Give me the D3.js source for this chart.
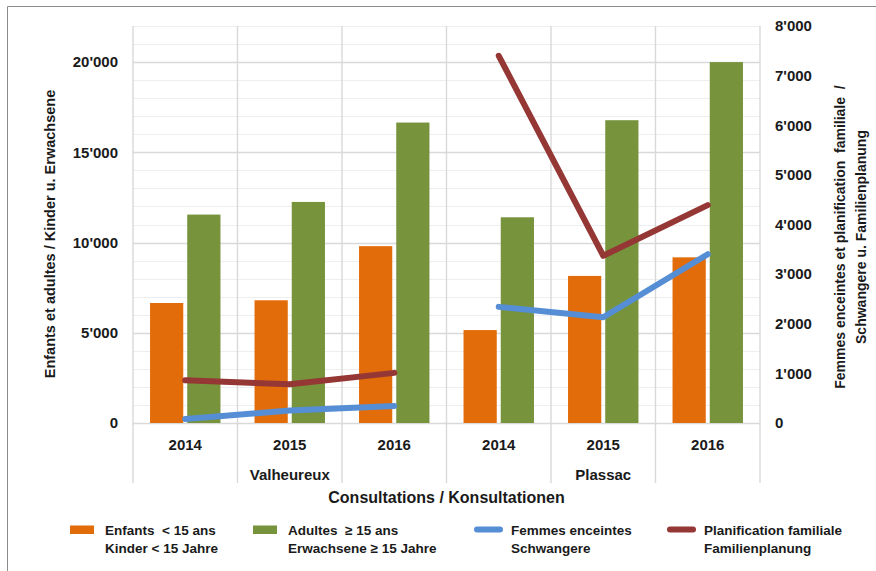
<!DOCTYPE html>
<html>
<head>
<meta charset="utf-8">
<script src="https://cdn.jsdelivr.net/npm/d3@7"></script>
<style>
  body { margin: 0; background: #fff; }
  svg { display: block; font-family: "Liberation Sans Narrow", "Arial Narrow", "Liberation Sans", sans-serif; font-weight: bold; }
</style>
</head>
<body>
<svg id="chart" width="876" height="571"></svg>
<script>
// Sites, each with three years of consultations
const groups = ["Valheureux", "Plassac"];
const years = ["2014", "2015", "2016"];

// Bars (left axis)
const enfants = [6650, 6800, 9800, 5150, 8150, 9180];
const adultes = [11550, 12250, 16650, 11400, 16780, 20000];

// Lines (right axis), one segment per site
const femmesEnceintes = [80, 250, 345, 2340, 2130, 3400];
const planificationFamiliale = [860, 780, 1010, 7400, 3370, 4390];

const leftTicks = [0, 5000, 10000, 15000, 20000];
const rightTicks = [0, 1000, 2000, 3000, 4000, 5000, 6000, 7000, 8000];

const colors = {
  enfants: "#E36C0A",
  adultes: "#77933C",
  femmes: "#558ED5",
  planif: "#953735"
};

const svg = d3.select("#chart");
const W = 876, H = 571;
const plot = { left: 133, right: 760, top: 26, bottom: 423 };

const fmt = d3.formatLocale({ decimal: ".", thousands: "'", grouping: [3], currency: ["", ""] }).format(",");

// Outer frame (cut off at right and bottom)
svg.append("path")
  .attr("d", `M7.5,${H} V6.5 H${W}`)
  .attr("fill", "none").attr("stroke", "#8c8c8c").attr("stroke-width", 1);

// Categories: site × year
const cats = [];
groups.forEach((g, gi) => years.forEach((y, yi) => cats.push({ g, y, i: gi * years.length + yi })));

const x0 = d3.scaleBand().domain(cats.map(c => c.i)).range([plot.left, plot.right]).paddingInner(0).paddingOuter(0);
const bw = x0.bandwidth();
const x1 = d3.scaleBand().domain(["enfants", "adultes"]).range([bw * 0.163, bw * 0.837]).paddingInner(0.107);

const yL = d3.scaleLinear().domain([0, 22000]).range([plot.bottom, plot.top]);
const yR = d3.scaleLinear().domain([0, 8000]).range([plot.bottom, plot.top]);

// Horizontal gridlines
const grid = svg.append("g");
grid.selectAll("line.minor")
  .data(d3.range(0, 22001, 1000))
  .join("line")
  .attr("x1", plot.left).attr("x2", plot.right)
  .attr("y1", d => Math.round(yL(d)) + 0.5).attr("y2", d => Math.round(yL(d)) + 0.5)
  .attr("stroke", d => d % 5000 === 0 ? "#d9d9d9" : "#eeeeee")
  .attr("stroke-width", d => d % 5000 === 0 ? 1.3 : 1);

// Vertical category separators (run down through the label rows)
grid.selectAll("line.sep")
  .data(d3.range(cats.length + 1))
  .join("line")
  .attr("x1", i => i === cats.length ? plot.right : x0(i))
  .attr("x2", i => i === cats.length ? plot.right : x0(i))
  .attr("y1", plot.top).attr("y2", 483)
  .attr("stroke", "#d9d9d9").attr("stroke-width", 1.4);

// Bars
const barData = [];
cats.forEach(c => {
  barData.push({ c, key: "enfants", v: enfants[c.i] });
  barData.push({ c, key: "adultes", v: adultes[c.i] });
});
svg.append("g").selectAll("rect")
  .data(barData)
  .join("rect")
  .attr("x", d => x0(d.c.i) + x1(d.key))
  .attr("width", x1.bandwidth())
  .attr("y", d => yL(d.v))
  .attr("height", d => yL(0) - yL(d.v))
  .attr("fill", d => colors[d.key]);

// Lines: separate segment for each site
const line = d3.line()
  .x(d => x0(d.i) + bw / 2)
  .y(d => yR(d.v));
function drawSeries(values, color) {
  groups.forEach((g, gi) => {
    const pts = years.map((y, yi) => {
      const i = gi * years.length + yi;
      return { i, v: values[i] };
    });
    svg.append("path")
      .attr("d", line(pts))
      .attr("fill", "none")
      .attr("stroke", color)
      .attr("stroke-width", 6)
      .attr("stroke-linecap", "round")
      .attr("stroke-linejoin", "round");
  });
}
drawSeries(femmesEnceintes, colors.femmes);
drawSeries(planificationFamiliale, colors.planif);

// Left axis labels
const axL = svg.append("g").attr("transform", `translate(${plot.left},0)`)
  .call(d3.axisLeft(yL).tickValues(leftTicks).tickFormat(fmt).tickSize(0).tickPadding(15));
axL.select(".domain").remove();
axL.selectAll("text").attr("font-size", 15).attr("font-family", null).attr("fill", "#1a1a1a");

// Right axis labels
const axR = svg.append("g").attr("transform", `translate(${plot.right},0)`)
  .call(d3.axisRight(yR).tickValues(rightTicks).tickFormat(fmt).tickSize(0).tickPadding(15));
axR.select(".domain").remove();
axR.selectAll("text").attr("font-size", 15).attr("font-family", null).attr("fill", "#1a1a1a");

// Category labels: years, then site names
svg.append("g").selectAll("text")
  .data(cats)
  .join("text")
  .attr("x", d => x0(d.i) + bw / 2)
  .attr("y", 450)
  .attr("text-anchor", "middle")
  .attr("font-size", 15)
  .attr("fill", "#1a1a1a")
  .text(d => d.y);

svg.append("g").selectAll("text")
  .data(groups)
  .join("text")
  .attr("x", (g, gi) => (x0(gi * 3) + x0(gi * 3 + 2) + bw) / 2)
  .attr("y", 480)
  .attr("text-anchor", "middle")
  .attr("font-size", 15)
  .attr("fill", "#1a1a1a")
  .text(d => d);

// Axis titles
svg.append("text")
  .attr("x", (plot.left + plot.right) / 2).attr("y", 503)
  .attr("text-anchor", "middle").attr("font-size", 16).attr("fill", "#1a1a1a")
  .text("Consultations / Konsultationen");

svg.append("text")
  .attr("transform", "translate(55,234) rotate(-90)")
  .attr("text-anchor", "middle").attr("font-size", 14.5).attr("fill", "#1a1a1a")
  .text("Enfants et adultes / Kinder u. Erwachsene");

const rt = svg.append("text")
  .attr("transform", "translate(845,237) rotate(-90)")
  .attr("text-anchor", "middle").attr("font-size", 14).attr("fill", "#1a1a1a")
  .style("white-space", "pre");
rt.append("tspan").attr("x", 0).attr("y", 0).text("Femmes enceintes et planification  familiale  /");
rt.append("tspan").attr("x", 0).attr("y", 21).text("Schwangere u. Familienplanung");

// Legend
const legend = [
  { type: "rect", color: colors.enfants, x: 70, l1: "Enfants  < 15 ans", l2: "Kinder < 15 Jahre" },
  { type: "rect", color: colors.adultes, x: 253, l1: "Adultes  \u2265 15 ans", l2: "Erwachsene \u2265 15 Jahre" },
  { type: "line", color: colors.femmes, x: 474, l1: "Femmes enceintes", l2: "Schwangere" },
  { type: "line", color: colors.planif, x: 667, l1: "Planification familiale", l2: "Familienplanung" }
];
const lg = svg.append("g").selectAll("g").data(legend).join("g");
lg.filter(d => d.type === "rect").append("rect")
  .attr("x", d => d.x).attr("y", 525.5).attr("width", 24).attr("height", 8.5)
  .attr("fill", d => d.color);
lg.filter(d => d.type === "line").append("line")
  .attr("x1", d => d.x + 3).attr("x2", d => d.x + 26).attr("y1", 529.5).attr("y2", 529.5)
  .attr("stroke", d => d.color).attr("stroke-width", 6).attr("stroke-linecap", "round");
lg.append("text")
  .attr("x", d => d.x + (d.type === "rect" ? 35 : 37)).attr("y", 535)
  .attr("font-size", 13.5).attr("fill", "#1a1a1a").style("white-space", "pre")
  .text(d => d.l1);
lg.append("text")
  .attr("x", d => d.x + (d.type === "rect" ? 35 : 37)).attr("y", 553)
  .attr("font-size", 13.5).attr("fill", "#1a1a1a").style("white-space", "pre")
  .text(d => d.l2);
</script>
</body>
</html>
